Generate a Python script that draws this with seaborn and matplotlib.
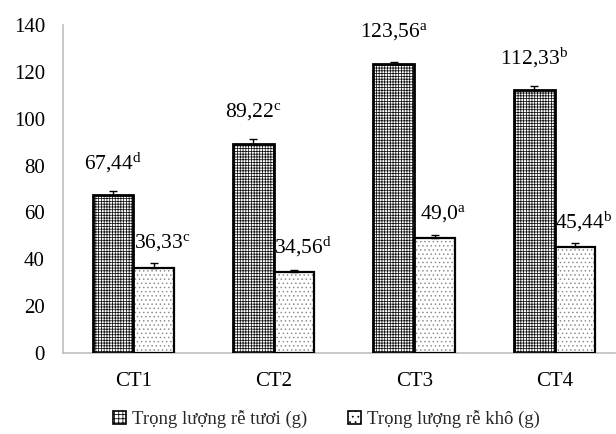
import matplotlib
matplotlib.use("Agg")
import matplotlib.pyplot as plt
from matplotlib.patches import Patch, Rectangle
import seaborn as sns
import pandas as pd

# Treatments and measured root weights (g)
treatments = ["CT1", "CT2", "CT3", "CT4"]
fresh_weight = [67.44, 89.22, 123.56, 112.33]
dry_weight = [36.33, 34.56, 49.0, 45.44]
fresh_err = [1.5, 2.0, 0.5, 1.5]
dry_err = [2.0, 1.0, 1.3, 1.3]
fresh_labels = ["67,44", "89,22", "123,56", "112,33"]
dry_labels = ["36,33", "34,56", "49,0", "45,44"]
fresh_letters = ["d", "c", "a", "b"]
dry_letters = ["c", "d", "a", "b"]
series_names = ["Trọng lượng rễ tươi (g)", "Trọng lượng rễ khô (g)"]
y_ticks = [0, 20, 40, 60, 80, 100, 120, 140]

sns.set_theme(style="white")
plt.rcParams["font.family"] = ["Liberation Serif", "DejaVu Serif"]
plt.rcParams["mathtext.fontset"] = "custom"
plt.rcParams["mathtext.rm"] = "Liberation Serif"
plt.rcParams["mathtext.it"] = "Liberation Serif"
plt.rcParams["hatch.linewidth"] = 0.55

df = pd.DataFrame({
    "treatment": treatments * 2,
    "value": fresh_weight + dry_weight,
    "series": [series_names[0]] * 4 + [series_names[1]] * 4,
})

fig = plt.figure(figsize=(6.16, 4.34), dpi=100)
ax = fig.add_axes([63 / 616, 81 / 434, 552 / 616, 328 / 434])

sns.barplot(data=df, x="treatment", y="value", hue="series",
            hue_order=series_names, order=treatments, width=0.58,
            errorbar=None, palette=["white", "white"], edgecolor="black",
            legend=False, ax=ax)

bars = list(ax.patches)
fresh_bars = bars[:4]
dry_bars = bars[4:8]
for b in fresh_bars:
    b.set_hatch("++++++")
    b.set_edgecolor("#111111")
    b.set_linewidth(0)
for b in dry_bars:
    b.set_hatch("....")
    b.set_edgecolor("#8a8a8a")
    b.set_linewidth(0)

# crisp outlines drawn over the hatched fills
for b, lw in [(b, 2.0) for b in fresh_bars] + [(b, 1.6) for b in dry_bars]:
    ax.add_patch(Rectangle((b.get_x(), b.get_y()), b.get_width(), b.get_height(),
                           fill=False, edgecolor="black", linewidth=lw, zorder=3))

def centers(bs):
    return [b.get_x() + b.get_width() / 2 for b in bs]

ax.errorbar(centers(fresh_bars), fresh_weight, yerr=[[0] * 4, fresh_err],
            fmt="none", ecolor="black", elinewidth=1, capsize=3, capthick=1, zorder=4)
ax.errorbar(centers(dry_bars), dry_weight, yerr=[[0] * 4, dry_err],
            fmt="none", ecolor="black", elinewidth=1, capsize=3, capthick=1, zorder=4)

for x, v, t, l in zip(centers(fresh_bars), fresh_weight, fresh_labels, fresh_letters):
    ax.annotate(t + r"$^{\mathrm{" + l + "}}$", (x, v), xytext=(0, 23),
                textcoords="offset points", ha="center", va="center",
                fontsize=15.5, color="black")
for x, v, t, l in zip(centers(dry_bars), dry_weight, dry_labels, dry_letters):
    ax.annotate(t + r"$^{\mathrm{" + l + "}}$", (x, v), xytext=(6, 18),
                textcoords="offset points", ha="center", va="center",
                fontsize=15.5, color="black")

ax.set_ylim(0, 140)
ax.set_xlim(-0.5, 3.5 - 10 / 140.7)
ax.set_yticks(y_ticks)
ax.set_yticklabels([str(t) for t in y_ticks])
ax.set_xlabel("")
ax.set_ylabel("")
ax.tick_params(axis="both", length=0, labelsize=15, colors="black")
ax.tick_params(axis="y", pad=13)
ax.tick_params(axis="x", pad=14)
for s in ["top", "right"]:
    ax.spines[s].set_visible(False)
for s in ["left", "bottom"]:
    ax.spines[s].set_color("#bfbfbf")
    ax.spines[s].set_linewidth(1.2)
ax.grid(False)

handles = [
    Patch(facecolor="white", edgecolor="black", hatch="++++", linewidth=1.2),
    Patch(facecolor="white", edgecolor="black", hatch="...", linewidth=1.2),
]
fig.legend(handles, series_names, loc="center", bbox_to_anchor=(0.53, 15 / 434),
           ncol=2, frameon=False, fontsize=13.5, handlelength=0.7,
           handleheight=0.7, handletextpad=0.3, columnspacing=2.2)

fig.savefig("out.png", dpi=100)
